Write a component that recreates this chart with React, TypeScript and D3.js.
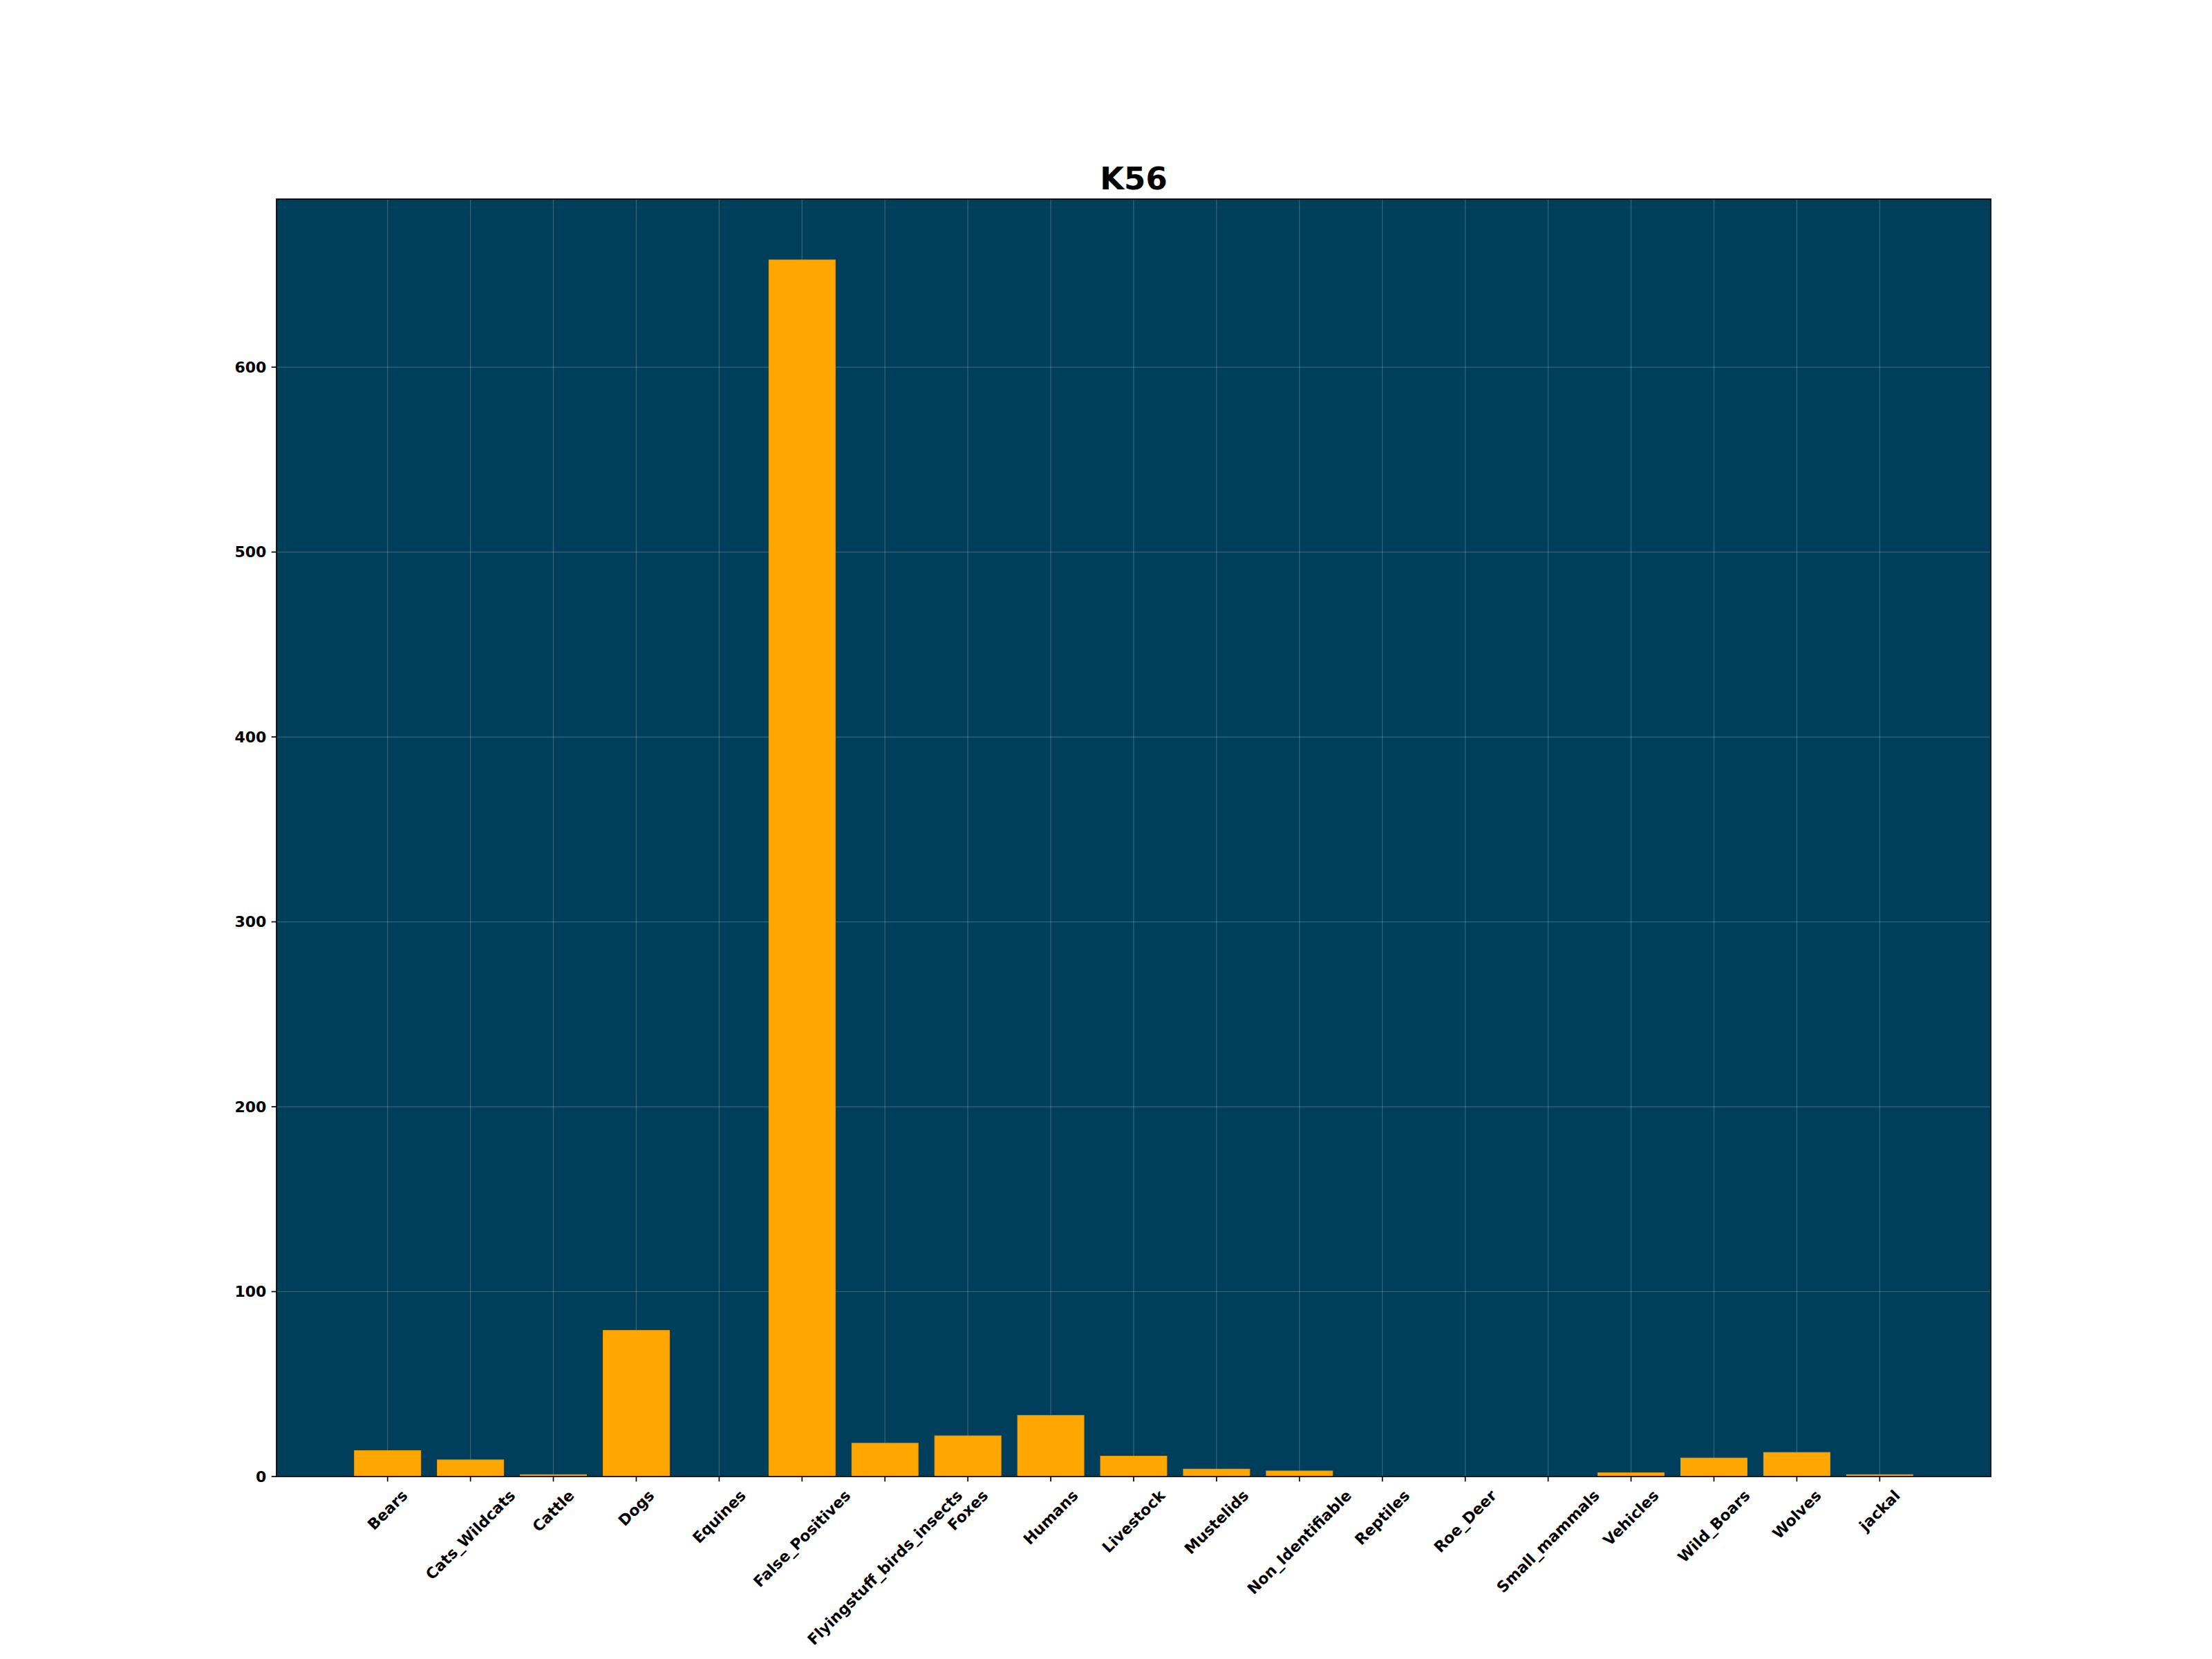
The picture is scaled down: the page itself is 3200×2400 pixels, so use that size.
import React from "react";
import * as d3 from "d3";

const categories = [
  "Bears",
  "Cats_Wildcats",
  "Cattle",
  "Dogs",
  "Equines",
  "False_Positives",
  "Flyingstuff_birds_insects",
  "Foxes",
  "Humans",
  "Livestock",
  "Mustelids",
  "Non_Identifiable",
  "Reptiles",
  "Roe_Deer",
  "Small_mammals",
  "Vehicles",
  "Wild_Boars",
  "Wolves",
  "jackal",
];
const counts = [14, 9, 1, 79, 0, 658, 18, 22, 33, 11, 4, 3, 0, 0, 0, 2, 10, 13, 1];
const yTicks = [0, 100, 200, 300, 400, 500, 600];
const title = "K56";

const W = 3200;
const H = 2400;
const margin = { left: 400, right: 2880, top: 288, bottom: 2136 };
const FONT = "'DejaVu Sans', sans-serif";
const tickFs = 22;
const tickLen = 7.3;
const tickPad = 7.3;

// measure text once with a canvas, so rotated labels can be placed like matplotlib does
const ctx = document.createElement("canvas").getContext("2d")!;
ctx.font = `bold ${tickFs}px DejaVu Sans`;
const textW = (s: string) => ctx.measureText(s).width;

export default function App() {
  const n = categories.length;
  const barW = 0.8;
  const pad = 0.05 * (n - 1 + barW);
  const x = d3
    .scaleLinear()
    .domain([-barW / 2 - pad, n - 1 + barW / 2 + pad])
    .range([margin.left, margin.right]);
  const y = d3
    .scaleLinear()
    .domain([0, d3.max(counts)! * 1.05])
    .range([margin.bottom, margin.top]);

  const bw = x(barW) - x(0);
  const labelTop = margin.bottom + tickLen + tickPad;

  return (
    <svg
      width={W}
      height={H}
      style={{ position: "absolute", left: 0, top: 0, background: "#fff" }}
    >
      <rect
        x={margin.left}
        y={margin.top}
        width={margin.right - margin.left}
        height={margin.bottom - margin.top}
        fill="#003f5c"
      />
      {/* grid */}
      <g stroke="rgba(255,255,255,0.2)" strokeWidth={1.2}>
        {categories.map((c, i) => (
          <line key={c} x1={x(i)} x2={x(i)} y1={margin.top} y2={margin.bottom} />
        ))}
        {yTicks.map((t) => (
          <line key={t} x1={margin.left} x2={margin.right} y1={y(t)} y2={y(t)} />
        ))}
      </g>
      {/* bars */}
      <g fill="#ffa600" stroke="#f29e00" strokeWidth={1}>
        {counts.map((v, i) =>
          v > 0 ? (
            <rect
              key={categories[i]}
              x={x(i) - bw / 2}
              y={y(v)}
              width={bw}
              height={y(0) - y(v)}
            />
          ) : null
        )}
      </g>
      <rect
        x={margin.left}
        y={margin.top}
        width={margin.right - margin.left}
        height={margin.bottom - margin.top}
        fill="none"
        stroke="#000"
        strokeWidth={1.7}
      />
      {/* y axis */}
      <g fontFamily={FONT} fontWeight="bold" fontSize={tickFs}>
        {yTicks.map((t) => (
          <g key={t}>
            <line
              x1={margin.left - tickLen}
              x2={margin.left}
              y1={y(t)}
              y2={y(t)}
              stroke="#000"
              strokeWidth={1.7}
            />
            <text
              x={margin.left - tickLen - tickPad}
              y={y(t)}
              textAnchor="end"
              dominantBaseline="central"
            >
              {t}
            </text>
          </g>
        ))}
      </g>
      {/* x axis */}
      <g fontFamily={FONT} fontWeight="bold" fontSize={tickFs}>
        {categories.map((c, i) => {
          const cx = x(i);
          const boxH = (textW(c) + tickFs * 1.16) * Math.SQRT1_2;
          const cy = labelTop + boxH / 2;
          return (
            <g key={c}>
              <line
                x1={cx}
                x2={cx}
                y1={margin.bottom}
                y2={margin.bottom + tickLen}
                stroke="#000"
                strokeWidth={1.7}
              />
              <text
                x={cx}
                y={cy}
                textAnchor="middle"
                dominantBaseline="central"
                transform={`rotate(-45 ${cx} ${cy})`}
              >
                {c}
              </text>
            </g>
          );
        })}
      </g>
      <text
        x={(margin.left + margin.right) / 2}
        y={274}
        textAnchor="middle"
        fontFamily={FONT}
        fontWeight="bold"
        fontSize={45}
      >
        {title}
      </text>
    </svg>
  );
}
